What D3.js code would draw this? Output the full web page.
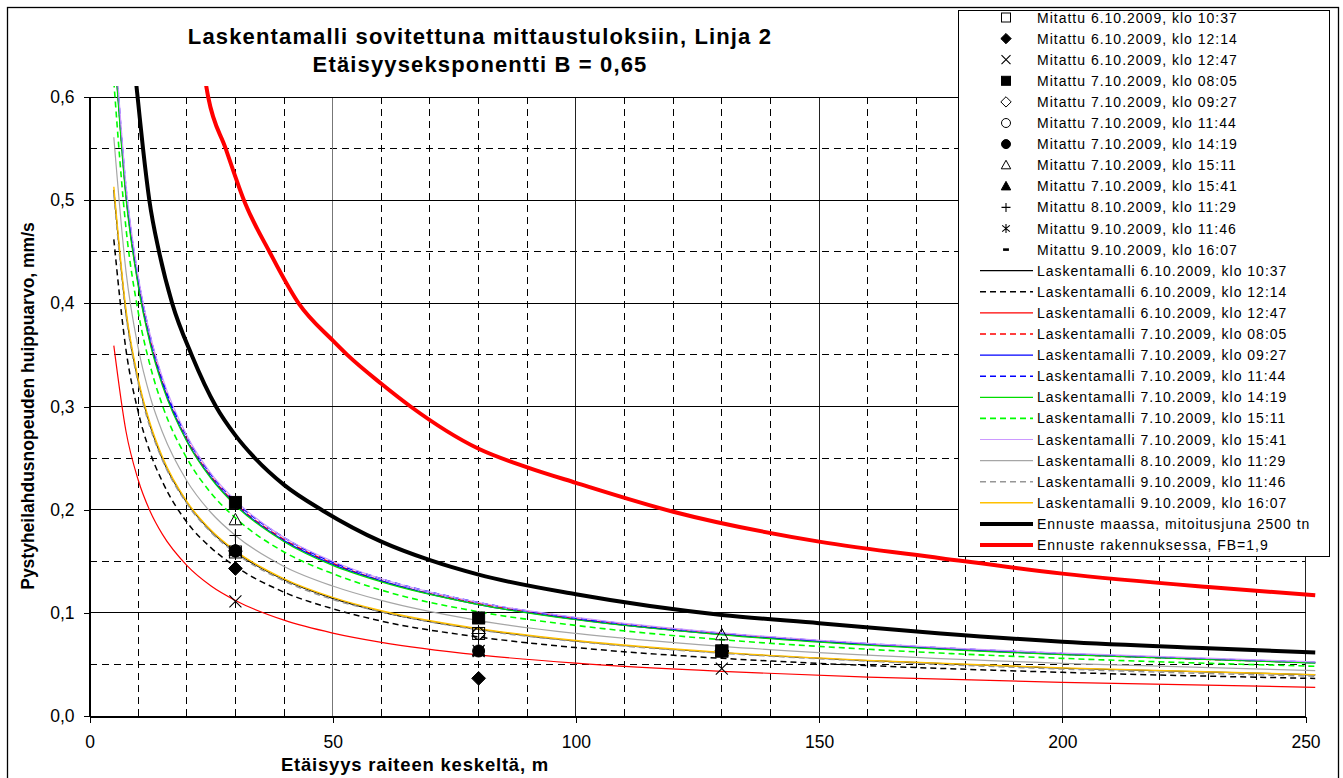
<!DOCTYPE html>
<html>
<head>
<meta charset="utf-8">
<script src="https://cdn.jsdelivr.net/npm/d3@7"></script>
<style>
  body { margin: 0; background: #fff; }
  text { font-family: Arial, "Liberation Sans", sans-serif; fill: #000; }
</style>
</head>
<body>
<svg width="1343" height="778"></svg>
<script>

	// Mittaustulokset etäisyyksillä 30, 80 ja 130 m
	var distances = [30, 80, 130];

	var mitattu0610_1037 = [0.159, 0.080, 0.063];
	var mitattu0610_1214 = [0.143, 0.0365, 0.063];
	var mitattu0610_1247 = [0.111, 0.063, 0.046];
	var mitattu0710_0805 = [0.207, 0.095, 0.063];
	var mitattu0710_0927 = [0.160, 0.080, 0.063];
	var mitattu0710_1144 = [0.160, 0.080, 0.063];
	var mitattu0710_1419 = [0.160, 0.063, 0.063];
	var mitattu0710_1511 = [0.190, 0.095, 0.0785];
	var mitattu0710_1541 = [0.160, 0.063, 0.063];
	var mitattu0810_1129 = [0.175, 0.080, 0.063];
	var mitattu0910_1146 = [0.160, 0.063, 0.063];
	var mitattu0910_1607 = [0.160, 0.063, 0.063];

	// Laskentamallit (luettu kuvasta)
	var modelX = [5, 7.5, 10, 12.5, 15, 20, 25, 30, 40, 50, 60, 80, 100, 130, 160, 200, 252];

	var malli0610_1037 = [0.510, 0.391, 0.325, 0.281, 0.249, 0.207, 0.179, 0.159, 0.132, 0.114, 0.101, 0.084, 0.0727, 0.0613, 0.0536, 0.0463, 0.0399];
	var malli0610_1214 = [0.462, 0.355, 0.295, 0.255, 0.227, 0.188, 0.163, 0.145, 0.120, 0.104, 0.092, 0.0766, 0.0663, 0.0559, 0.0489, 0.0423, 0.0364];
	var malli0610_1247 = [0.359, 0.276, 0.229, 0.198, 0.176, 0.146, 0.126, 0.112, 0.0929, 0.0804, 0.0714, 0.0592, 0.0512, 0.0432, 0.0377, 0.0326, 0.0278];
	var malli0710_0805 = [0.660, 0.507, 0.421, 0.364, 0.323, 0.268, 0.232, 0.206, 0.171, 0.148, 0.131, 0.109, 0.0942, 0.0794, 0.0694, 0.0600, 0.0517];
	var malli0710_0927 = [0.657, 0.505, 0.419, 0.362, 0.322, 0.267, 0.231, 0.205, 0.170, 0.147, 0.131, 0.108, 0.0937, 0.0790, 0.0691, 0.0597, 0.0514];
	var malli0710_1144 = [0.667, 0.512, 0.425, 0.368, 0.326, 0.271, 0.234, 0.208, 0.173, 0.149, 0.133, 0.110, 0.0951, 0.0802, 0.0701, 0.0606, 0.0522];
	var malli0710_1419 = [0.654, 0.502, 0.417, 0.360, 0.320, 0.266, 0.230, 0.204, 0.169, 0.146, 0.130, 0.108, 0.0933, 0.0787, 0.0687, 0.0594, 0.0512];
	var malli0710_1511 = [0.615, 0.473, 0.392, 0.339, 0.301, 0.250, 0.216, 0.192, 0.159, 0.138, 0.122, 0.101, 0.0878, 0.0740, 0.0647, 0.0559, 0.0482];
	var malli0710_1541 = [0.670, 0.515, 0.427, 0.369, 0.328, 0.272, 0.235, 0.209, 0.173, 0.150, 0.133, 0.110, 0.0956, 0.0806, 0.0704, 0.0609, 0.0524];
	var malli0810_1129 = [0.561, 0.431, 0.357, 0.309, 0.275, 0.228, 0.197, 0.175, 0.145, 0.126, 0.112, 0.0925, 0.0800, 0.0675, 0.0590, 0.0510, 0.0439];
	var malli0910_1146 = [0.506, 0.389, 0.323, 0.279, 0.248, 0.206, 0.178, 0.158, 0.131, 0.113, 0.101, 0.0835, 0.0722, 0.0609, 0.0532, 0.0455, 0.0385];
	var malli0910_1607 = [0.513, 0.394, 0.327, 0.283, 0.251, 0.208, 0.180, 0.160, 0.133, 0.115, 0.102, 0.0846, 0.0732, 0.0617, 0.0539, 0.0466, 0.0401];

	// Ennusteet
	var groundX = [9, 10, 11, 12.3, 14.3, 17, 21, 26, 30, 34, 40, 48, 60, 70, 80, 100, 130, 150, 175, 200, 230, 252];
	var groundForecast = [0.64, 0.595, 0.55, 0.50, 0.45, 0.40, 0.35, 0.30, 0.272, 0.25, 0.224, 0.199, 0.169, 0.151, 0.137, 0.118, 0.098, 0.090, 0.080, 0.072, 0.0656, 0.0615];

	var buildingX = [23, 24.4, 28, 32, 37, 43, 50, 53, 60, 66, 80, 90, 100, 120, 150, 175, 200, 230, 252];
	var buildingForecast = [0.64, 0.60, 0.55, 0.497, 0.45, 0.40, 0.364, 0.35, 0.322, 0.30, 0.259, 0.241, 0.226, 0.198, 0.169, 0.153, 0.138, 0.125, 0.117];

	var xTicks = [0, 50, 100, 150, 200, 250];
	var yTicks = [0, 0.1, 0.2, 0.3, 0.4, 0.5, 0.6];

	var titleLines = ["Laskentamalli sovitettuna mittaustuloksiin, Linja 2", "Etäisyyseksponentti B = 0,65"];
	var xTitle = "Etäisyys raiteen keskeltä, m";
	var yTitle = "Pystyheilahdusnopeuden huippuarvo, mm/s";

	var measured = [
		{ name: "Mitattu 6.10.2009, klo 10:37", values: mitattu0610_1037, marker: "squareOpen" },
		{ name: "Mitattu 6.10.2009, klo 12:14", values: mitattu0610_1214, marker: "diamond" },
		{ name: "Mitattu 6.10.2009, klo 12:47", values: mitattu0610_1247, marker: "cross" },
		{ name: "Mitattu 7.10.2009, klo 08:05", values: mitattu0710_0805, marker: "square" },
		{ name: "Mitattu 7.10.2009, klo 09:27", values: mitattu0710_0927, marker: "diamondOpen" },
		{ name: "Mitattu 7.10.2009, klo 11:44", values: mitattu0710_1144, marker: "circleOpen" },
		{ name: "Mitattu 7.10.2009, klo 14:19", values: mitattu0710_1419, marker: "circle" },
		{ name: "Mitattu 7.10.2009, klo 15:11", values: mitattu0710_1511, marker: "triangleOpen" },
		{ name: "Mitattu 7.10.2009, klo 15:41", values: mitattu0710_1541, marker: "triangle" },
		{ name: "Mitattu 8.10.2009, klo 11:29", values: mitattu0810_1129, marker: "plus" },
		{ name: "Mitattu 9.10.2009, klo 11:46", values: mitattu0910_1146, marker: "star" },
		{ name: "Mitattu 9.10.2009, klo 16:07", values: mitattu0910_1607, marker: "dash" }
	];

	var lines = [
		{ name: "Laskentamalli 6.10.2009, klo 10:37", xs: modelX, values: malli0610_1037, color: "#000000", dash: null, w: 1.2 },
		{ name: "Laskentamalli 6.10.2009, klo 12:14", xs: modelX, values: malli0610_1214, color: "#000000", dash: "6,4", w: 1.5 },
		{ name: "Laskentamalli 6.10.2009, klo 12:47", xs: modelX, values: malli0610_1247, color: "#FF0000", dash: null, w: 1.2 },
		{ name: "Laskentamalli 7.10.2009, klo 08:05", xs: modelX, values: malli0710_0805, color: "#FF0000", dash: "6,4", w: 1.5 },
		{ name: "Laskentamalli 7.10.2009, klo 09:27", xs: modelX, values: malli0710_0927, color: "#0000FF", dash: null, w: 1.2 },
		{ name: "Laskentamalli 7.10.2009, klo 11:44", xs: modelX, values: malli0710_1144, color: "#0000FF", dash: "6,4", w: 1.5 },
		{ name: "Laskentamalli 7.10.2009, klo 14:19", xs: modelX, values: malli0710_1419, color: "#00DD00", dash: null, w: 1.2 },
		{ name: "Laskentamalli 7.10.2009, klo 15:11", xs: modelX, values: malli0710_1511, color: "#00FF00", dash: "6,4", w: 1.6 },
		{ name: "Laskentamalli 7.10.2009, klo 15:41", xs: modelX, values: malli0710_1541, color: "#CC99FF", dash: null, w: 1.2 },
		{ name: "Laskentamalli 8.10.2009, klo 11:29", xs: modelX, values: malli0810_1129, color: "#A6A6A6", dash: null, w: 1.2 },
		{ name: "Laskentamalli 9.10.2009, klo 11:46", xs: modelX, values: malli0910_1146, color: "#969696", dash: "6,4", w: 1.5 },
		{ name: "Laskentamalli 9.10.2009, klo 16:07", xs: modelX, values: malli0910_1607, color: "#FFC000", dash: null, w: 1.4 },
		{ name: "Ennuste maassa, mitoitusjuna 2500 tn", xs: groundX, values: groundForecast, color: "#000000", dash: null, w: 4 },
		{ name: "Ennuste rakennuksessa, FB=1,9", xs: buildingX, values: buildingForecast, color: "#FF0000", dash: null, w: 4 }
	];

	var svg = d3.select("svg"),
		plot = { left: 89.5, right: 1305.5, top: 97, bottom: 716 };

	var x = d3.scaleLinear().domain([0, 250]).range([plot.left, plot.right]);
	var y = d3.scaleLinear().domain([0, 0.6]).range([plot.bottom, plot.top]);

	function crisp(v) { return Math.round(v - 0.5) + 0.5; }

	// ulkokehys
	svg.append("rect")
		.attr("x", 7.5).attr("y", 7.5)
		.attr("width", 1331).attr("height", 790)
		.attr("fill", "#fff").attr("stroke", "#000").attr("stroke-width", 1.3);

	// otsikko
	svg.selectAll("text.title")
		.data(titleLines)
		.enter().append("text")
		.attr("class", "title")
		.attr("x", 480)
		.attr("y", function(d, i) { return 43.5 + i * 28.5; })
		.attr("text-anchor", "middle")
		.style("font-size", "22px")
		.style("font-weight", "bold")
		.style("letter-spacing", "1.15px")
		.text(function(d) { return d; });

	// ruudukko
	var grid = svg.append("g").attr("shape-rendering", "crispEdges");

	grid.selectAll("line.vminor")
		.data(d3.range(10, 250, 10).filter(function(d) { return d % 50 != 0; }))
		.enter().append("line")
		.attr("x1", function(d) { return crisp(x(d)); })
		.attr("x2", function(d) { return crisp(x(d)); })
		.attr("y1", plot.top).attr("y2", plot.bottom)
		.attr("stroke", "#000").attr("stroke-dasharray", "7,5");

	grid.selectAll("line.hminor")
		.data([0.05, 0.15, 0.25, 0.35, 0.45, 0.55])
		.enter().append("line")
		.attr("y1", function(d) { return crisp(y(d)); })
		.attr("y2", function(d) { return crisp(y(d)); })
		.attr("x1", plot.left).attr("x2", plot.right)
		.attr("stroke", "#000").attr("stroke-dasharray", "7,5");

	grid.selectAll("line.vmajor")
		.data(xTicks.slice(1))
		.enter().append("line")
		.attr("x1", function(d) { return crisp(x(d)); })
		.attr("x2", function(d) { return crisp(x(d)); })
		.attr("y1", plot.top).attr("y2", plot.bottom)
		.attr("stroke", function(d, i) { return i % 3 == 0 ? "#777" : "#222"; });

	grid.selectAll("line.hmajor")
		.data(yTicks.slice(1))
		.enter().append("line")
		.attr("y1", function(d) { return crisp(y(d)); })
		.attr("y2", function(d) { return crisp(y(d)); })
		.attr("x1", plot.left).attr("x2", plot.right)
		.attr("stroke", "#000");

	// akselit
	var fmt = function(d) { return d3.format(".1f")(d).replace(".", ","); };

	var yAxis = svg.append("g")
		.attr("transform", "translate(" + crisp(plot.left) + ",0)")
		.call(d3.axisLeft(y).tickValues(yTicks).tickSize(6).tickSizeOuter(0).tickPadding(9).tickFormat(fmt));

	var xAxis = svg.append("g")
		.attr("transform", "translate(0," + crisp(plot.bottom) + ")")
		.call(d3.axisBottom(x).tickValues(xTicks).tickSize(6).tickSizeOuter(0).tickPadding(13).tickFormat(d3.format("d")));

	[xAxis, yAxis].forEach(function(a) {
		a.attr("shape-rendering", "crispEdges");
		a.selectAll("path.domain").attr("stroke", "#000").attr("stroke-width", 1.3);
		a.selectAll("line").attr("stroke", "#000");
		a.selectAll("text").style("font-size", "17.5px").style("font-family", "Arial, 'Liberation Sans', sans-serif");
	});

	svg.append("text")
		.attr("x", 415).attr("y", 771)
		.attr("text-anchor", "middle")
		.style("font-size", "18.5px").style("font-weight", "bold")
		.style("letter-spacing", "0.8px")
		.text(xTitle);

	svg.append("text")
		.attr("transform", "translate(34,406) rotate(-90)")
		.attr("text-anchor", "middle")
		.style("font-size", "17.5px").style("font-weight", "bold")
		.text(yTitle);

	// viivat
	svg.append("clipPath").attr("id", "clip")
		.append("rect")
		.attr("x", plot.left).attr("y", 86)
		.attr("width", 1318 - plot.left).attr("height", plot.bottom - 86);

	var line = d3.line()
		.curve(d3.curveMonotoneX)
		.x(function(d) { return x(d[0]); })
		.y(function(d) { return y(d[1]); });

	svg.append("g").attr("clip-path", "url(#clip)")
		.selectAll("path")
		.data(lines)
		.enter().append("path")
		.attr("d", function(s) { return line(s.xs.map(function(v, i) { return [v, s.values[i]]; })); })
		.attr("fill", "none")
		.attr("stroke", function(s) { return s.color; })
		.attr("stroke-width", function(s) { return s.w; })
		.attr("stroke-dasharray", function(s) { return s.dash; });

	// merkit
	function drawMarker(g, type, cx, cy, s) {
		var h = s / 2, m = g.append("g").attr("transform", "translate(" + cx + "," + cy + ")");
		if (type == "square" || type == "squareOpen")
			m.append("rect").attr("x", -h).attr("y", -h).attr("width", s).attr("height", s)
				.attr("fill", type == "square" ? "#000" : "none").attr("stroke", "#000").attr("stroke-width", 1);
		else if (type == "diamond" || type == "diamondOpen")
			m.append("path").attr("d", "M0," + (-h * 1.15) + "L" + (h * 1.15) + ",0L0," + (h * 1.15) + "L" + (-h * 1.15) + ",0Z")
				.attr("fill", type == "diamond" ? "#000" : "none").attr("stroke", "#000").attr("stroke-width", 1);
		else if (type == "circle" || type == "circleOpen")
			m.append("circle").attr("r", h)
				.attr("fill", type == "circle" ? "#000" : "none").attr("stroke", "#000").attr("stroke-width", 1);
		else if (type == "triangle" || type == "triangleOpen")
			m.append("path").attr("d", "M0," + (-h * 1.1) + "L" + (h * 1.05) + "," + (h * 0.8) + "L" + (-h * 1.05) + "," + (h * 0.8) + "Z")
				.attr("fill", type == "triangle" ? "#000" : "none").attr("stroke", "#000").attr("stroke-width", 1);
		else if (type == "cross")
			m.append("path").attr("d", "M" + (-h) + "," + (-h) + "L" + h + "," + h + "M" + (-h) + "," + h + "L" + h + "," + (-h))
				.attr("stroke", "#000").attr("stroke-width", 1.1);
		else if (type == "plus")
			m.append("path").attr("d", "M" + (-h) + ",0L" + h + ",0M0," + (-h) + "L0," + h)
				.attr("stroke", "#000").attr("stroke-width", 1.1);
		else if (type == "star")
			m.append("path").attr("d", "M" + (-h * 0.85) + "," + (-h * 0.7) + "L" + (h * 0.85) + "," + (h * 0.7) +
				"M" + (-h * 0.85) + "," + (h * 0.7) + "L" + (h * 0.85) + "," + (-h * 0.7) + "M0," + (-h) + "L0," + h)
				.attr("stroke", "#000").attr("stroke-width", 1.1);
		else if (type == "dash")
			m.append("path").attr("d", "M" + (-h * 0.65) + ",0L" + (h * 0.65) + ",0")
				.attr("stroke", "#000").attr("stroke-width", 2.6);
	}

	var markers = svg.append("g");
	measured.forEach(function(s) {
		s.values.forEach(function(v, i) {
			drawMarker(markers, s.marker, x(distances[i]), y(v), 12);
		});
	});

	// selite
	var legend = svg.append("g");
	legend.append("rect")
		.attr("x", 958.5).attr("y", 10.5)
		.attr("width", 371).attr("height", 546)
		.attr("fill", "#fff").attr("stroke", "#000");

	var rowY = function(i) { return 17.5 + i * 21.1; };

	measured.forEach(function(s, i) {
		drawMarker(legend, s.marker, 1006, rowY(i), 9);
		legend.append("text").attr("x", 1037).attr("y", rowY(i)).attr("dy", "0.36em")
			.style("font-size", "14px").style("letter-spacing", "1px").text(s.name);
	});

	lines.forEach(function(s, j) {
		var i = j + measured.length;
		legend.append("line")
			.attr("x1", 980).attr("x2", 1033)
			.attr("y1", rowY(i)).attr("y2", rowY(i))
			.attr("stroke", s.color)
			.attr("stroke-width", s.w)
			.attr("stroke-dasharray", s.dash);
		legend.append("text").attr("x", 1037).attr("y", rowY(i)).attr("dy", "0.36em")
			.style("font-size", "14px").style("letter-spacing", "1px").text(s.name);
	});

</script>
</body>
</html>
